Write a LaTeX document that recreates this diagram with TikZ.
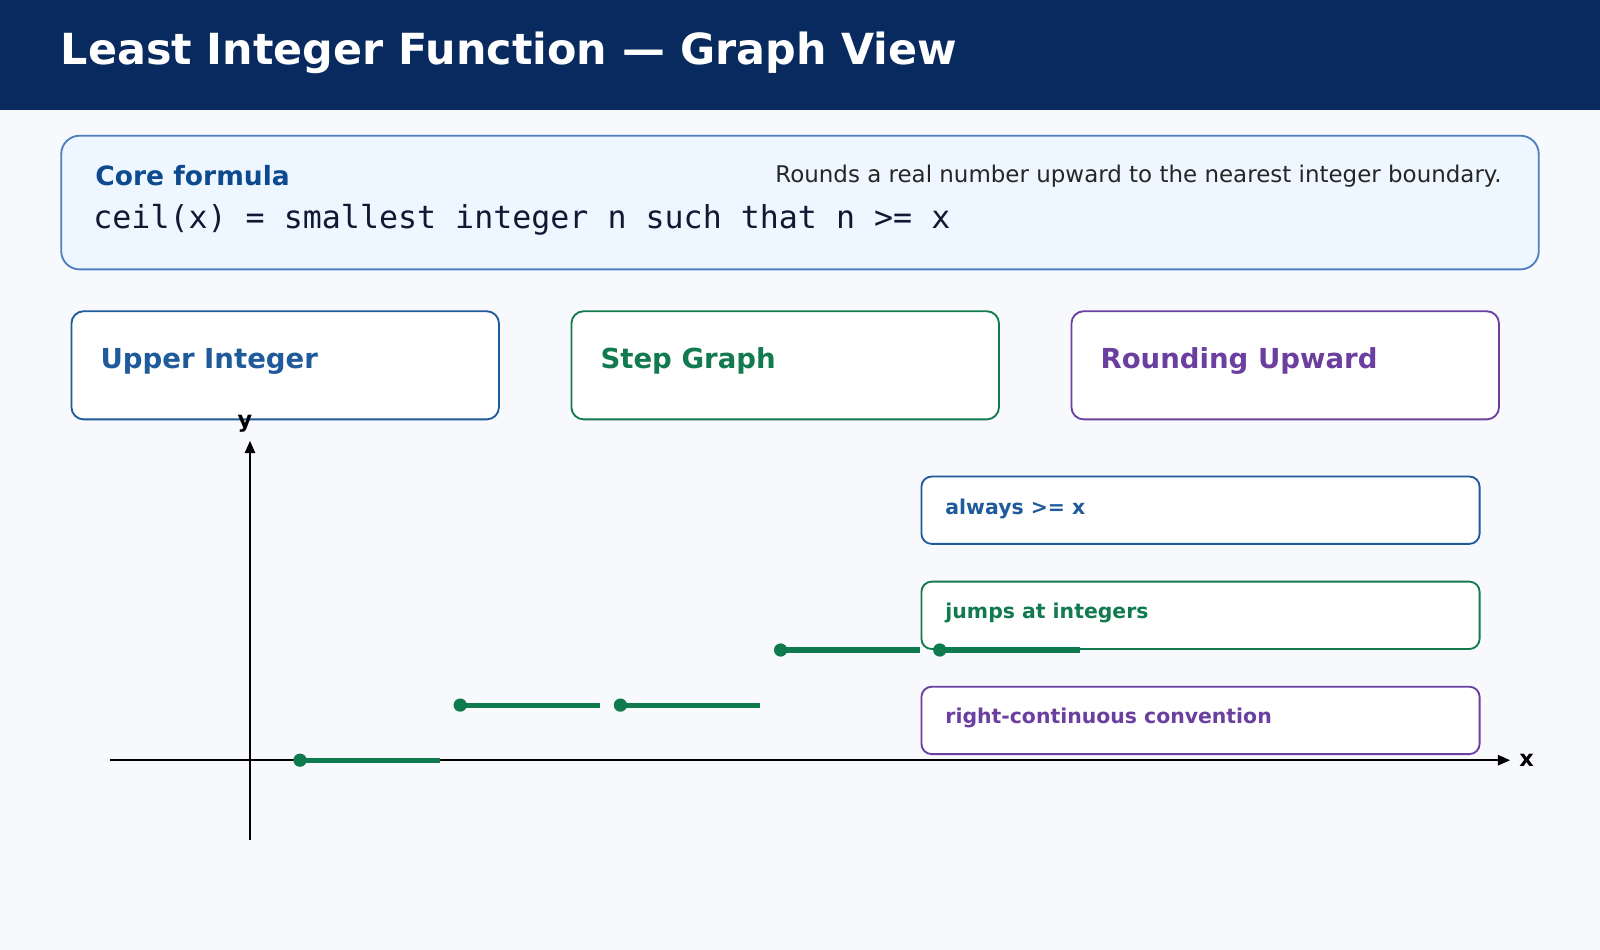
\documentclass[tikz,border=0pt]{standalone}
\usepackage{fontspec}
\setmainfont{DejaVu Sans}
\setmonofont{DejaVu Sans Mono}
\usetikzlibrary{arrows.meta}
\definecolor{navy}{HTML}{082A5E}
\definecolor{bg}{HTML}{F7F9FD}
\definecolor{cblue}{HTML}{1F5A9A}
\definecolor{cgreen}{HTML}{127A4F}
\definecolor{cpurp}{HTML}{6B3FA0}
\definecolor{fblue}{HTML}{0D4A8F}
\definecolor{stepg}{HTML}{0F7A4E}
\definecolor{fstroke}{HTML}{4F7FBF}
\definecolor{ffill}{HTML}{EEF7FF}
\definecolor{mono}{HTML}{0F1932}
\begin{document}
\begin{tikzpicture}[x=1pt,y=-1pt,
 card/.style={draw=#1,line width=1.8pt,fill=white,rounded corners=12pt},
 ctitle/.style={anchor=west,text=#1,font=\fontsize{27}{30}\selectfont\bfseries},
 call/.style={draw=#1,line width=1.8pt,fill=white,rounded corners=10pt},
 ctext/.style={anchor=west,text=#1,font=\fontsize{20}{24}\selectfont\bfseries},
 stepline/.style={stepg,line width=5pt},
 dot/.style={circle,fill=stepg,inner sep=0,minimum size=13pt}]
\useasboundingbox (0,0) rectangle (1568,931);
\fill[bg] (0,0) rectangle (1568,931);
\fill[navy] (0,0) rectangle (1568,108);
\node[anchor=west,text=white,font=\fontsize{42}{48}\selectfont\bfseries] (title) at (56,52) {Least Integer Function — Graph View};
\draw[draw=fstroke,fill=ffill,line width=1.8pt,rounded corners=18pt] (60,133) rectangle (1508,264);
\node[anchor=west,text=fblue,font=\fontsize{26}{30}\selectfont\bfseries] (cf) at (90,172) {Core formula};
\node[anchor=east,text=black!85,font=\fontsize{22.5}{26}\selectfont] (rd) at (1475,173) {Rounds a real number upward to the nearest integer boundary.};
\node[anchor=west,text=mono,font=\fontsize{31}{34}\selectfont\ttfamily] (fm) at (88,215) {ceil(x) = smallest integer n such that n >= x};
\draw[card=cblue] (70,305) rectangle (489,411);
\node[ctitle=cblue] (t1) at (95,354) {Upper Integer};
\draw[card=cgreen] (560,305) rectangle (979,411);
\node[ctitle=cgreen] (t2) at (585,354) {Step Graph};
\draw[card=cpurp] (1050,305) rectangle (1469,411);
\node[ctitle=cpurp] (t3) at (1075,354) {Rounding Upward};
% axes
\coordinate (yb) at (245,823); \coordinate (yt) at (245,432);
\coordinate (xl) at (108,745); \coordinate (xr) at (1480,745);
\draw[line width=1.8pt,-{Triangle[length=12pt,width=10pt]}] (yb) -- (yt);
\draw[line width=1.8pt,-{Triangle[length=12pt,width=10pt]}] (xl) -- (xr);
\node[font=\fontsize{22}{24}\selectfont\bfseries] (ylab) at (240,415) {y};
\node[font=\fontsize{22}{24}\selectfont\bfseries] (xlab) at (1496,745) {x};
% callouts
\draw[call=cblue] (903,467) rectangle (1450,533);
\node[ctext=cblue] (c1) at (923,499) {always >= x};
\draw[call=cgreen] (903,570) rectangle (1450,636);
\node[ctext=cgreen] (c2) at (923,601) {jumps at integers};
\draw[call=cpurp] (903,673) rectangle (1450,739);
\node[ctext=cpurp] (c3) at (923,704) {right-continuous convention};
% steps
\foreach \a/\b/\y [count=\i] in {294/431/745,451/588/691,608/745/691,765/902/637,921/1058/637}{
  \node[dot] (d\i) at (\a,\y) {};
  \coordinate (e\i) at (\b,\y);
  \draw[stepline] (d\i.center) -- (e\i);
}
\end{tikzpicture}
\end{document}
